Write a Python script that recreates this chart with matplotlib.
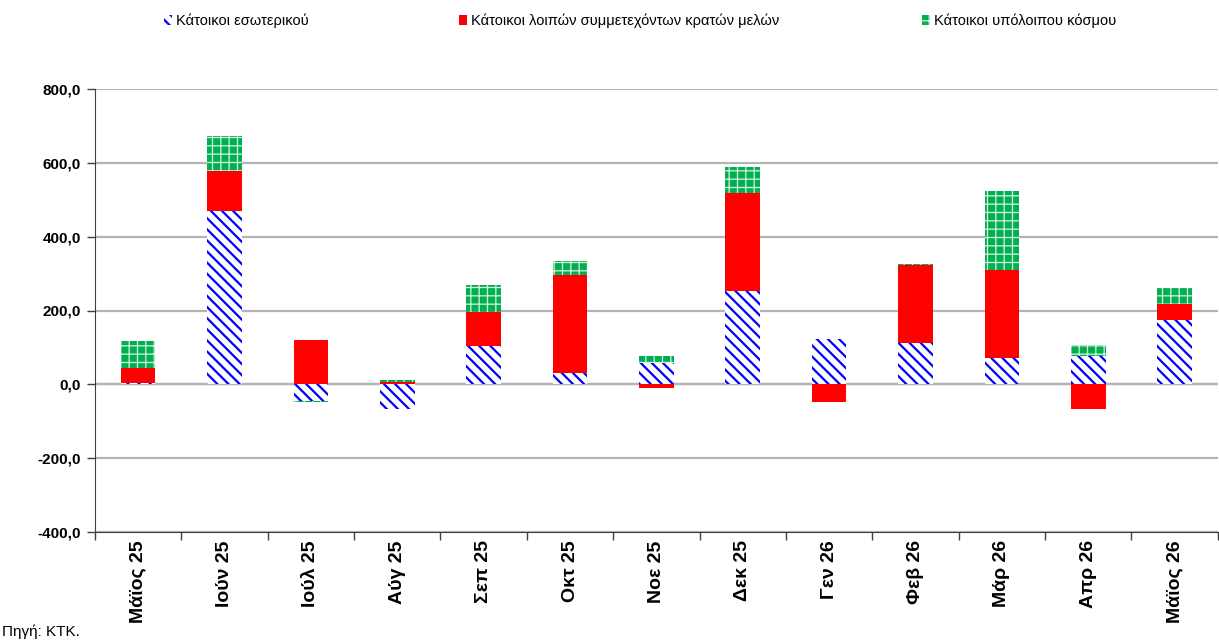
import numpy as np
import matplotlib
matplotlib.use("Agg")
from matplotlib import pyplot as plt
from matplotlib.patches import Patch

# data
months = ["Μάϊος 25", "Ιούν 25", "Ιούλ 25", "Αύγ 25", "Σεπ 25", "Οκτ 25", "Νοε 25",
          "Δεκ 25", "Γεν 26", "Φεβ 26", "Μάρ 26", "Απρ 26", "Μάϊος 26"]
domestic = [4, 470, -45, -68, 103, 30, 57, 252, 124, 111, 71, 77, 174]
other_ms = [39, 108, 119, 7, 92, 265, -11, 265, -47, 213, 239, -67, 43]
rest_world = [74, 95, -2, 4, 73, 40, 21, 72, -2, 3, 215, 30, 43]

labels = ["Κάτοικοι εσωτερικού", "Κάτοικοι λοιπών συμμετεχόντων κρατών μελών",
          "Κάτοικοι υπόλοιπου κόσμου"]
yticks = [-400, -200, 0, 200, 400, 600, 800]

plt.rcParams["font.family"] = ["Liberation Sans", "DejaVu Sans"]

fig = plt.figure(figsize=(12.19, 6.41), dpi=100)
ax = fig.add_axes([95 / 1219, 1 - 532 / 641, 1 - 95 / 1219 - 0.001, (532 - 89) / 641])

x = np.arange(len(months))
w = 0.4
styles = [
    dict(facecolor="white", edgecolor="#0000FF", hatch="\\\\\\"),
    dict(facecolor="#FF0000", edgecolor="#FF0000", hatch=None),
    dict(facecolor="#00B050", edgecolor="#D8F0E0", hatch="++"),
]
hatch_lw = [1.6, 1.0, 0.9]

pos = np.zeros(len(months))
neg = np.zeros(len(months))
for vals, st, hlw in zip([domestic, other_ms, rest_world], styles, hatch_lw):
    v = np.array(vals, dtype=float)
    bottom = np.where(v >= 0, pos, neg)
    with plt.rc_context({"hatch.linewidth": hlw}):
        bars = ax.bar(x, v, w, bottom=bottom, linewidth=0, zorder=3, **st)
    for b in bars:
        if hasattr(b, "set_hatch_linewidth"):
            b.set_hatch_linewidth(hlw)
    pos = pos + np.where(v >= 0, v, 0)
    neg = neg + np.where(v < 0, v, 0)

ax.set_xlim(-0.5, len(months) - 0.5)
ax.set_ylim(-400, 800)
ax.set_yticks(yticks)
ax.set_yticklabels([f"{t:.1f}".replace(".", ",") for t in yticks],
                   fontsize=11, fontweight="bold")
ax.yaxis.grid(True, color="#B4B4B4", linewidth=1.6, zorder=0)
ax.axhline(0, color="#8C8C8C", linewidth=1.6, zorder=1)

ax.set_xticks(x)
ax.set_xticklabels(months, rotation=90, fontsize=14, fontweight="bold", va="top")
ax.set_xticks(np.arange(len(months) + 1) - 0.5, minor=True)
ax.tick_params(axis="x", which="major", length=0, pad=6)
ax.tick_params(axis="x", which="minor", length=6, width=1, color="#404040")
ax.tick_params(axis="y", length=6, width=1, color="#404040", pad=4)

for s in ["top", "right"]:
    ax.spines[s].set_visible(False)
ax.spines["left"].set_color("#404040")
ax.spines["bottom"].set_color("#404040")

# legend entries placed along the top
leg_x = [164, 459, 922]
for lx, lab, st, hlw in zip(leg_x, labels, styles, hatch_lw):
    with plt.rc_context({"hatch.linewidth": hlw}):
        h = Patch(facecolor=st["facecolor"], edgecolor=st["edgecolor"],
                  hatch=st["hatch"], linewidth=0)
        fig.legend(handles=[h], labels=[lab], loc="center left",
                   bbox_to_anchor=(lx / 1219, 1 - 21 / 641), frameon=False,
                   fontsize=10.5, handlelength=0.55, handleheight=0.7,
                   handletextpad=0.3, borderpad=0, borderaxespad=0)

fig.text(2 / 1219, 1 - 632 / 641, "Πηγή: ΚΤΚ.", fontsize=11, va="center", ha="left")

fig.savefig("out.png", dpi=100)
